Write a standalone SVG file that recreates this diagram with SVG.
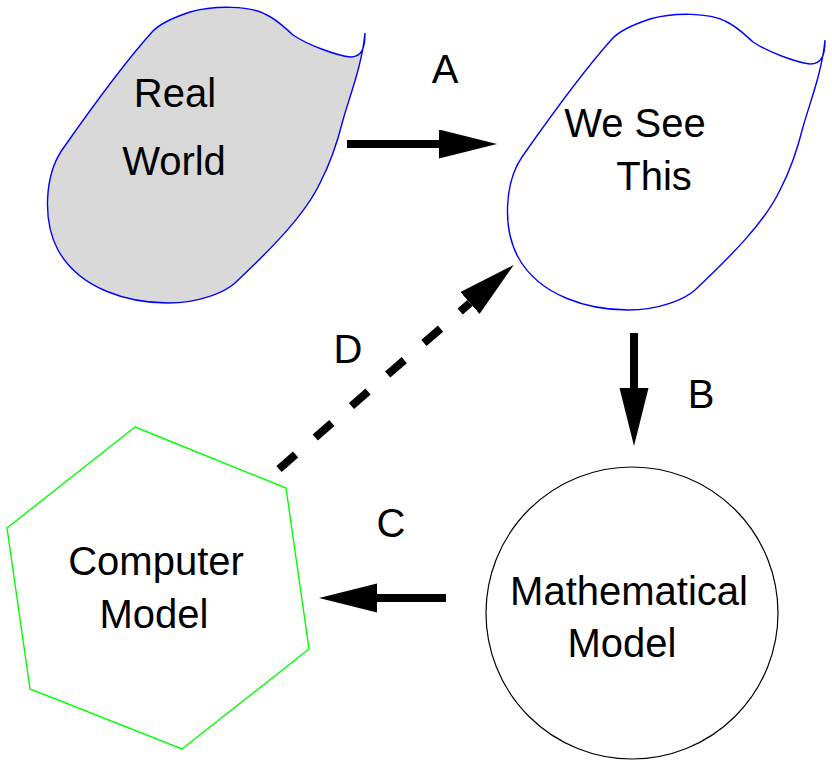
<svg xmlns="http://www.w3.org/2000/svg" width="832" height="769" viewBox="0 0 832 769">
<style>
text{font-family:"Liberation Sans",Arial,sans-serif;font-size:40px;fill:#000;text-anchor:middle}
.blob{stroke:#0000ff;stroke-width:1.4}
.conn{stroke:#000;stroke-width:8;fill:none}
</style>
<defs>
<path id="blobShape" d="M365,33 C365,48 362,57 350,57 C335,55 308,45 293,35 C285,28 278,20 265,14 C250,6 215,5 190,12 C175,17 160,23 152,32 C125,62 90,110 62,150 C45,175 42,220 58,250 C80,290 130,303 168,303 C200,303 225,292 235,283 C270,250 305,215 320,183 C332,160 338,140 343,120 C350,95 362,65 365,33 Z"/>
<marker id="head" markerUnits="userSpaceOnUse" markerWidth="60" markerHeight="30" refX="0" refY="14.5" orient="auto" viewBox="0 0 60 30">
<path d="M0,0 L58,14.5 L0,29 Z" fill="#000"/>
</marker>
</defs>
<g id="real-world">
<use href="#blobShape" class="blob" fill="#d9d9d9"/>
<text x="175" y="107">Real</text>
<text x="174" y="175">World</text>
</g>
<g id="we-see-this">
<use href="#blobShape" class="blob" fill="#fff" transform="translate(460,7)"/>
<text x="635" y="137">We See</text>
<text x="654" y="190">This</text>
</g>
<g id="mathematical-model">
<circle cx="632" cy="613" r="146" fill="#fff" stroke="#000" stroke-width="1.2"/>
<text x="629" y="605">Mathematical</text>
<text x="622" y="657">Model</text>
</g>
<g id="computer-model">
<polygon points="135,427 286,488 309,649 182,749 30,689 7,528" fill="#fff" stroke="#00ff00" stroke-width="1.4"/>
<text x="156" y="575">Computer</text>
<text x="154" y="628">Model</text>
</g>
<g id="connectors">
<line class="conn" x1="347" y1="144" x2="439" y2="144" marker-end="url(#head)"/>
<line class="conn" x1="634" y1="333" x2="634" y2="388" marker-end="url(#head)"/>
<line class="conn" x1="446" y1="598" x2="377" y2="598" marker-end="url(#head)"/>
<line class="conn" x1="279" y1="469" x2="470" y2="303" stroke-dasharray="22 26" marker-end="url(#head)"/>
<text x="445" y="83">A</text>
<text x="701" y="408">B</text>
<text x="391" y="537">C</text>
<text x="348" y="363">D</text>
</g>
</svg>
